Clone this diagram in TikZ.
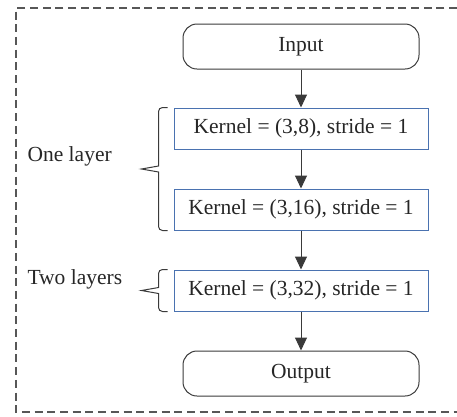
\documentclass[tikz,border=0pt]{standalone}
\usepackage{fontspec}
\setmainfont{Liberation Serif}
\usepackage{xcolor}
\usetikzlibrary{arrows.meta,positioning,calc}
\definecolor{LayBlue}{HTML}{4A72B0}
\definecolor{LayDark}{HTML}{3A3A3A}

\begin{document}
\begin{tikzpicture}[
    x=1pt, y=-1pt,
    font=\fontsize{21.5}{25}\selectfont,
    term/.style={draw=LayDark, line width=1pt, rounded corners=14pt, minimum width=236pt, minimum height=45pt, inner sep=0pt, text=black!85},
    conv/.style={draw=LayBlue, line width=1pt, minimum width=254pt, minimum height=41pt, inner sep=0pt, text=black!85},
    lbl/.style={anchor=west, text=black!85},
    arrow/.style={-{Triangle[length=13pt,width=12pt]}, line width=1pt, LayDark},
    brace/.style={draw=LayDark, line width=1pt},
    node distance=39pt,
  ]
    \useasboundingbox (0,0) rectangle (457,416);

    % ---- 外框 ----
    \draw[LayDark!85, line width=1.2pt, dash pattern=on 8pt off 4.7pt] (457,8) -- (16,8) -- (16,412) -- (457,412);

    % ---- 流程 ----
    \node[term] (input) at (301,46.5) {Input};
    \node[conv, below=38pt of input] (k1) {Kernel = (3,8), stride = 1};
    \node[conv, below=of k1] (k2) {Kernel = (3,16), stride = 1};
    \node[conv, below=of k2] (k3) {Kernel = (3,32), stride = 1};
    \node[term, below=of k3] (output) {Output};

    % ---- 箭头 ----
    \draw[arrow] (input) -- (k1);
    \draw[arrow] (k1) -- (k2);
    \draw[arrow] (k2) -- (k3);
    \draw[arrow] (k3) -- (output);

    % ---- 括号 ----
    \coordinate (tip1) at ($(k1.north west)!0.5!(k2.south west) + (-32pt,0)$);
    \draw[brace] ([xshift=-6pt]k1.north west) [rounded corners=4pt] -| ([xshift=-15pt,yshift=-8pt]k1.north west)
      [sharp corners] -- ([xshift=17pt,yshift=3pt]tip1) -- (tip1) -- ([xshift=17pt,yshift=-3pt]tip1)
      [rounded corners=4pt] -- ([xshift=-15pt]k2.south west) -- ([xshift=-6pt]k2.south west);
    \coordinate (tip2) at ($(k3.west) + (-32pt,0)$);
    \draw[brace] ([xshift=-6pt]k3.north west) [rounded corners=4pt] -| ([xshift=-15pt,yshift=-8pt]k3.north west)
      [sharp corners] -- ([xshift=17pt,yshift=3pt]tip2) -- (tip2) -- ([xshift=17pt,yshift=-3pt]tip2)
      [rounded corners=4pt] -- ([xshift=-15pt]k3.south west) -- ([xshift=-6pt]k3.south west);

    % ---- 标注 ----
    \node[lbl] (one) at (24,156) {One layer};
    \node[lbl] (two) at (24,279) {Two layers};
  \end{tikzpicture}
\end{document}
